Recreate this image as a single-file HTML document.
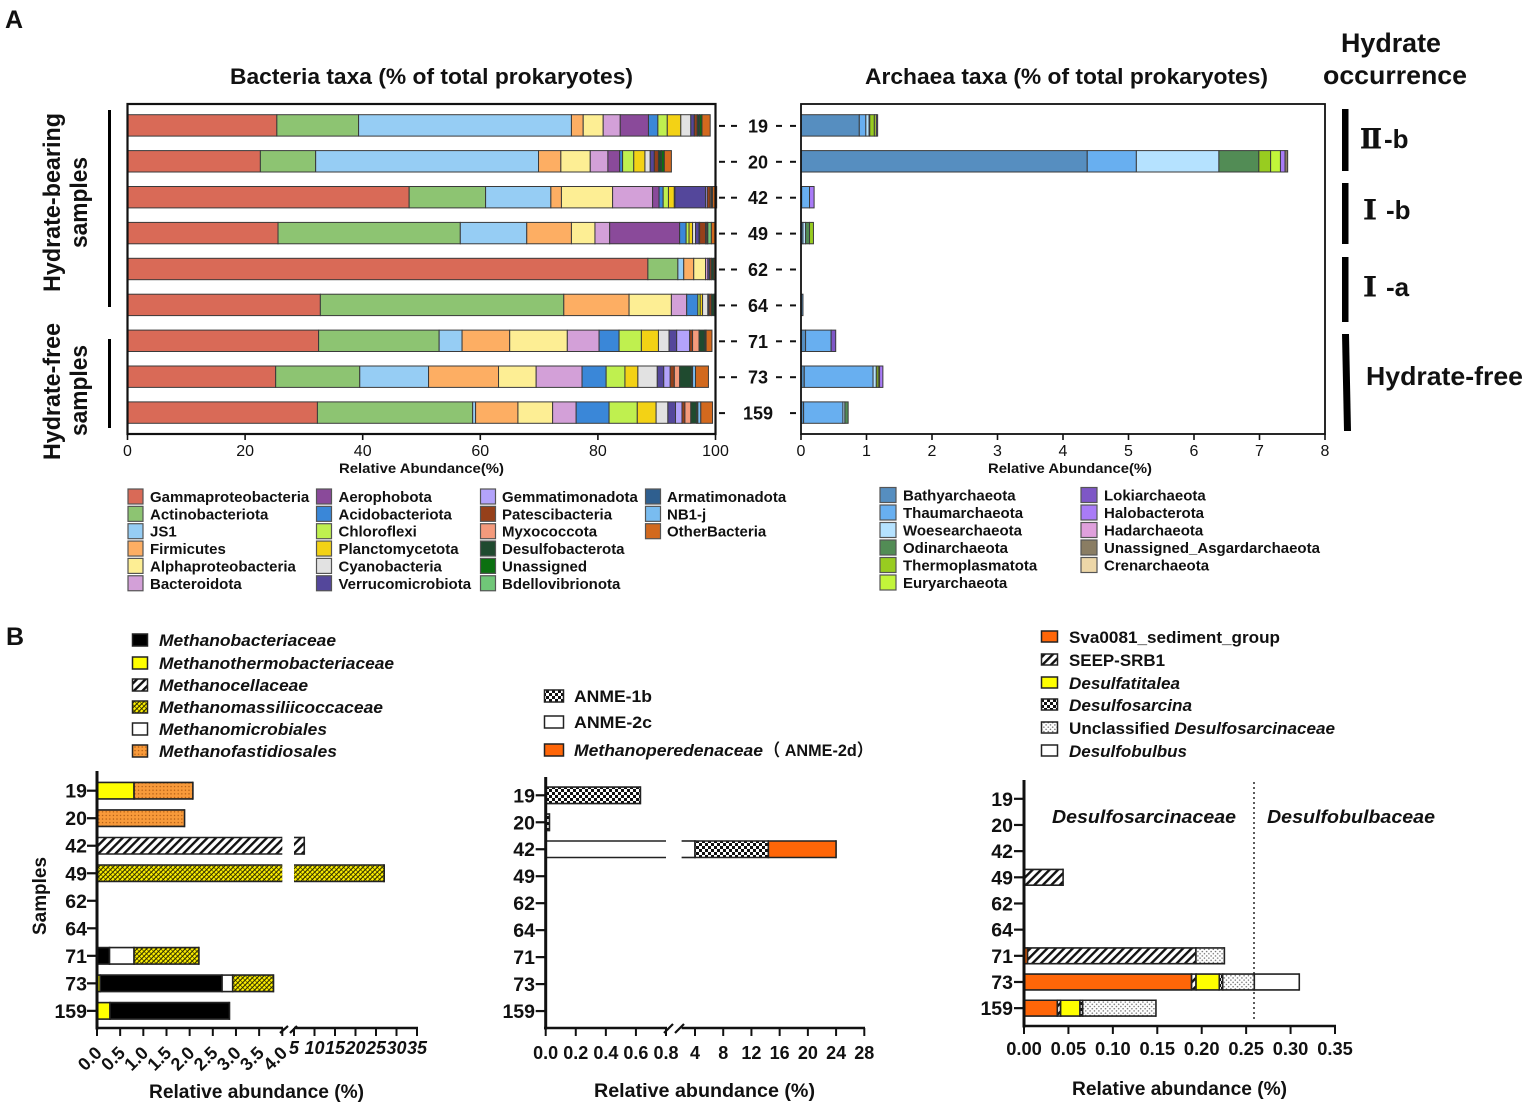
<!DOCTYPE html>
<html lang="en">
<head>
<meta charset="utf-8">
<title>Bacteria and archaea taxa in hydrate-bearing and hydrate-free samples</title>
<style>
html,body{margin:0;padding:0;background:#fff;}
svg{display:block;font-family:"Liberation Sans","Noto Sans CJK SC",sans-serif;fill:#111;}
text{font-weight:bold;fill:#111;}
.bi{font-style:italic;}
.tick-a{font-weight:normal;font-size:16px;text-anchor:middle;}
.roman{font-family:"Noto Serif CJK SC",serif;font-weight:900;stroke:#111;stroke-width:1;}
</style>
</head>
<body>
<svg id="figure" xmlns="http://www.w3.org/2000/svg" width="1535" height="1109" viewBox="0 0 1535 1109">
<defs>
<pattern id="p-hatch" patternUnits="userSpaceOnUse" width="6" height="6" patternTransform="rotate(45)"><rect width="6" height="6" fill="#fff"/><rect width="2.400" height="6" fill="#111"/></pattern>
<pattern id="p-massili" patternUnits="userSpaceOnUse" width="3.4" height="3.4" patternTransform="rotate(45)"><rect width="3.4" height="3.4" fill="#2a2a00"/><rect width="2.300" height="2.800" fill="#fff000"/></pattern>
<pattern id="p-orange" patternUnits="userSpaceOnUse" width="3.6" height="3.6"><rect width="3.6" height="3.6" fill="#f89a3a"/><circle cx="1.8" cy="1.8" r=".7" fill="#a8560f"/></pattern>
<pattern id="p-check" patternUnits="userSpaceOnUse" width="6" height="6"><rect width="6" height="6" fill="#fff"/><rect width="3" height="3" fill="#111"/><rect x="3" y="3" width="3" height="3" fill="#111"/></pattern>
<pattern id="p-dots" patternUnits="userSpaceOnUse" width="4.4" height="4.4"><rect width="4.4" height="4.4" fill="#fff"/><circle cx="1.1" cy="1.1" r=".75" fill="#666"/><circle cx="3.3" cy="3.3" r=".75" fill="#666"/></pattern>
</defs>

<text x="5" y="28" font-size="25">A</text>
<text x="6" y="645" font-size="25">B</text>

<text x="230" y="84" font-size="22" textLength="403" lengthAdjust="spacingAndGlyphs">Bacteria taxa (% of total prokaryotes)</text>
<text x="865" y="84" font-size="22" textLength="403" lengthAdjust="spacingAndGlyphs">Archaea taxa (% of total prokaryotes)</text>
<text x="1341" y="52" font-size="27" textLength="100" lengthAdjust="spacingAndGlyphs">Hydrate</text>
<text x="1323" y="84" font-size="26" textLength="144" lengthAdjust="spacingAndGlyphs">occurrence</text>

<g>
<rect x="1342" y="109" width="6.5" height="62" fill="#000"/>
<rect x="1342" y="183" width="6.5" height="61" fill="#000"/>
<rect x="1342" y="257" width="6.5" height="65" fill="#000"/>
<polygon points="1342,334 1349,334 1351,431 1344,431" fill="#000"/>
</g>
<text x="1358" y="148" font-size="26"><tspan class="roman">Ⅱ</tspan><tspan>-b</tspan></text>
<text x="1357" y="219" font-size="26"><tspan class="roman">Ⅰ</tspan><tspan dx="3">-b</tspan></text>
<text x="1357" y="296" font-size="26"><tspan class="roman">Ⅰ</tspan><tspan dx="3">-a</tspan></text>
<text x="1366" y="385" font-size="26" textLength="157" lengthAdjust="spacingAndGlyphs">Hydrate-free</text>

<g>
<text transform="translate(60 292) rotate(-90)" font-size="24" textLength="179" lengthAdjust="spacingAndGlyphs">Hydrate-bearing</text>
<text transform="translate(87 248) rotate(-90)" font-size="24" textLength="91" lengthAdjust="spacingAndGlyphs">samples</text>
<text transform="translate(60 460) rotate(-90)" font-size="24" textLength="137" lengthAdjust="spacingAndGlyphs">Hydrate-free</text>
<text transform="translate(87 436) rotate(-90)" font-size="24" textLength="91" lengthAdjust="spacingAndGlyphs">samples</text>
<rect x="108" y="110" width="3" height="197" fill="#000"/>
<rect x="108" y="339" width="3" height="89" fill="#000"/>
</g>

<text x="339" y="473" font-size="14" textLength="165" lengthAdjust="spacingAndGlyphs">Relative Abundance(%)</text>
<text x="988" y="473" font-size="14" textLength="164" lengthAdjust="spacingAndGlyphs">Relative Abundance(%)</text>

<g font-size="17">
<rect x="132.500" y="634" width="15" height="12" fill="#000" stroke="#222" stroke-width="1.5"/>
<text class="bi" x="159" y="646" textLength="177" lengthAdjust="spacingAndGlyphs">Methanobacteriaceae</text>
<rect x="132.500" y="657" width="15" height="12" fill="#ffff00" stroke="#222" stroke-width="1.5"/>
<text class="bi" x="159" y="669" textLength="235" lengthAdjust="spacingAndGlyphs">Methanothermobacteriaceae</text>
<rect x="132.500" y="679" width="15" height="12" fill="url(#p-hatch)" stroke="#222" stroke-width="1.5"/>
<text class="bi" x="159" y="691" textLength="149" lengthAdjust="spacingAndGlyphs">Methanocellaceae</text>
<rect x="132.500" y="701" width="15" height="12" fill="url(#p-massili)" stroke="#222" stroke-width="1.5"/>
<text class="bi" x="159" y="713" textLength="224" lengthAdjust="spacingAndGlyphs">Methanomassiliicoccaceae</text>
<rect x="132.500" y="723" width="15" height="12" fill="#fff" stroke="#222" stroke-width="1.5"/>
<text class="bi" x="159" y="735" textLength="168" lengthAdjust="spacingAndGlyphs">Methanomicrobiales</text>
<rect x="132.500" y="745" width="15" height="12" fill="url(#p-orange)" stroke="#222" stroke-width="1.5"/>
<text class="bi" x="159" y="757" textLength="178" lengthAdjust="spacingAndGlyphs">Methanofastidiosales</text>
</g>

<g font-size="17">
<rect x="544.500" y="690" width="19" height="12" fill="url(#p-check)" stroke="#222" stroke-width="1.5"/>
<text x="574" y="702" textLength="78" lengthAdjust="spacingAndGlyphs">ANME-1b</text>
<rect x="544.500" y="716" width="19" height="12" fill="#fff" stroke="#222" stroke-width="1.5"/>
<text x="574" y="728" textLength="78" lengthAdjust="spacingAndGlyphs">ANME-2c</text>
<rect x="544.500" y="744" width="19" height="12" fill="#ff6608" stroke="#222" stroke-width="1.5"/>
<text class="bi" x="574" y="756" textLength="189" lengthAdjust="spacingAndGlyphs">Methanoperedenaceae</text>
<text x="764" y="756" textLength="109" lengthAdjust="spacingAndGlyphs">（ ANME-2d）</text>
</g>

<g font-size="17">
<rect x="1041.500" y="631" width="16" height="11" fill="#ff6608" stroke="#222" stroke-width="1.500"/>
<text x="1069" y="643" textLength="211" lengthAdjust="spacingAndGlyphs">Sva0081_sediment_group</text>
<rect x="1041.500" y="654" width="16" height="11" fill="url(#p-hatch)" stroke="#222" stroke-width="1.500"/>
<text x="1069" y="666" textLength="96" lengthAdjust="spacingAndGlyphs">SEEP-SRB1</text>
<rect x="1041.500" y="677" width="16" height="11" fill="#ffff00" stroke="#222" stroke-width="1.500"/>
<text class="bi" x="1069" y="689" textLength="111" lengthAdjust="spacingAndGlyphs">Desulfatitalea</text>
<rect x="1041.500" y="699" width="16" height="11" fill="url(#p-check)" stroke="#222" stroke-width="1.500"/>
<text class="bi" x="1069" y="711" textLength="123" lengthAdjust="spacingAndGlyphs">Desulfosarcina</text>
<rect x="1041.500" y="722" width="16" height="11" fill="url(#p-dots)" stroke="#222" stroke-width="1.500"/>
<text x="1069" y="734" textLength="266" lengthAdjust="spacingAndGlyphs">Unclassified <tspan class="bi">Desulfosarcinaceae</tspan></text>
<rect x="1041.500" y="745" width="16" height="11" fill="#fff" stroke="#222" stroke-width="1.500"/>
<text class="bi" x="1069" y="757" textLength="118" lengthAdjust="spacingAndGlyphs">Desulfobulbus</text>
</g>

<line x1="1254" y1="782" x2="1254" y2="1021" stroke="#333" stroke-width="1.6" stroke-dasharray="2 3"/>
<text class="bi" x="1052" y="823" font-size="18" textLength="184" lengthAdjust="spacingAndGlyphs">Desulfosarcinaceae</text>
<text class="bi" x="1267" y="823" font-size="18" textLength="168" lengthAdjust="spacingAndGlyphs">Desulfobulbaceae</text>

<text transform="translate(46 935) rotate(-90)" font-size="19" textLength="78" lengthAdjust="spacingAndGlyphs">Samples</text>
<text x="149" y="1098" font-size="19" textLength="215" lengthAdjust="spacingAndGlyphs">Relative abundance (%)</text>
<text x="594" y="1097" font-size="19" textLength="221" lengthAdjust="spacingAndGlyphs">Relative abundance (%)</text>
<text x="1072" y="1095" font-size="19" textLength="215" lengthAdjust="spacingAndGlyphs">Relative abundance (%)</text>
</svg>

<script>
const samples = ['19', '20', '42', '49', '62', '64', '71', '73', '159'];

const bacteriaTaxa = ['Gammaproteobacteria', 'Actinobacteriota', 'JS1', 'Firmicutes', 'Alphaproteobacteria', 'Bacteroidota', 'Aerophobota', 'Acidobacteriota', 'Chloroflexi', 'Planctomycetota', 'Cyanobacteria', 'Verrucomicrobiota', 'Gemmatimonadota', 'Patescibacteria', 'Myxococcota', 'Desulfobacterota', 'Unassigned', 'Bdellovibrionota', 'Armatimonadota', 'NB1-j', 'OtherBacteria'];
const bacteriaColors = ['#d96a57', '#8dc472', '#96cdf4', '#fdae63', '#fdee94', '#d3a0d8', '#8a4a9a', '#3a87d8', '#bff04f', '#f3d215', '#e2e2e2', '#54479b', '#b3a3fb', '#96401a', '#f49a7c', '#1f4a2f', '#0b7010', '#70c678', '#2f5f8f', '#79bcf0', '#d2691e'];

const bacteria19 = [25.4, 13.9, 36.2, 2.0, 3.4, 2.9, 4.8, 1.6, 1.6, 2.3, 1.7, 0.6, 0, 0.5, 0, 0.4, 0.4, 0, 0, 0, 1.4];
const bacteria20 = [22.6, 9.4, 37.9, 3.8, 5.0, 3.0, 2.0, 0.5, 1.9, 1.9, 0.9, 0.7, 0, 0.7, 0, 0.5, 0.5, 0, 0, 0, 1.2];
const bacteria42 = [47.9, 13.0, 11.1, 1.8, 8.7, 6.8, 1.1, 0.7, 0.9, 1.0, 0.1, 5.2, 0.3, 0.5, 0.2, 0.2, 0, 0, 0, 0, 0.7];
const bacteria49 = [25.6, 31.0, 11.3, 7.6, 4.0, 2.5, 11.9, 1.1, 0.5, 0.6, 0.5, 0.6, 0.1, 1.0, 0.2, 0.1, 0.1, 0.6, 0, 0, 0.6];
const bacteria62 = [88.5, 5.1, 1.0, 1.7, 2.0, 0.4, 0, 0, 0, 0, 0, 0.3, 0, 0.3, 0, 0.4, 0, 0, 0, 0, 0.3];
const bacteria64 = [32.8, 41.4, 0, 11.1, 7.2, 2.6, 0, 1.9, 0.4, 0.4, 0.9, 0.2, 0, 0.4, 0, 0.5, 0, 0, 0, 0, 0.2];
const bacteria71 = [32.5, 20.5, 3.9, 8.1, 9.8, 5.4, 0, 3.4, 3.8, 2.9, 1.8, 1.3, 2.2, 0.5, 1.1, 1.0, 0.2, 0, 0, 0, 1.0];
const bacteria73 = [25.2, 14.3, 11.7, 11.9, 6.4, 7.8, 0, 4.1, 3.2, 2.2, 3.3, 1.1, 1.1, 0.7, 0.9, 2.0, 0.2, 0, 0, 0.5, 2.2];
const bacteria159 = [32.3, 26.4, 0.5, 7.2, 5.9, 4.0, 0, 5.6, 4.8, 3.2, 2.0, 1.3, 1.1, 0.5, 1.0, 1.0, 0.2, 0, 0, 0.5, 2.0];
const bacteriaRows = [bacteria19, bacteria20, bacteria42, bacteria49, bacteria62, bacteria64, bacteria71, bacteria73, bacteria159];
const bacteriaTicks = [0, 20, 40, 60, 80, 100];

const archaeaTaxa = ['Bathyarchaeota', 'Thaumarchaeota', 'Woesearchaeota', 'Odinarchaeota', 'Thermoplasmatota', 'Euryarchaeota', 'Lokiarchaeota', 'Halobacterota', 'Hadarchaeota', 'Unassigned_Asgardarchaeota', 'Crenarchaeota'];
const archaeaColors = ['#568ec0', '#68aff0', '#b5e2ff', '#528c55', '#98cc20', '#c2f53a', '#7e57c6', '#a97bf7', '#dfa0dc', '#8a7d63', '#edd7a8'];

const archaea19 = [0.89, 0.10, 0.05, 0.01, 0.07, 0.03, 0.02, 0, 0, 0, 0];
const archaea20 = [4.37, 0.75, 1.26, 0.61, 0.18, 0.15, 0, 0.07, 0, 0.04, 0];
const archaea42 = [0.01, 0.12, 0, 0, 0, 0, 0, 0.07, 0, 0, 0];
const archaea49 = [0.03, 0, 0.04, 0.06, 0.06, 0, 0, 0, 0, 0, 0];
const archaea62 = [0, 0, 0, 0, 0, 0, 0, 0, 0, 0, 0];
const archaea64 = [0.03, 0, 0, 0, 0, 0, 0, 0, 0, 0, 0];
const archaea71 = [0.07, 0.39, 0, 0, 0, 0, 0.07, 0, 0, 0, 0];
const archaea73 = [0.05, 1.05, 0.05, 0, 0.03, 0.02, 0, 0.05, 0, 0, 0];
const archaea159 = [0.04, 0.60, 0.03, 0.05, 0, 0, 0, 0, 0, 0, 0];
const archaeaRows = [archaea19, archaea20, archaea42, archaea49, archaea62, archaea64, archaea71, archaea73, archaea159];
const archaeaTicks = [0, 1, 2, 3, 4, 5, 6, 7, 8];

const methanothermobacteriaceae = [0.80, 0, 0, 0, 0, 0, 0, 0.07, 0.28];
const methanobacteriaceae = [0, 0, 0, 0, 0, 0, 0.27, 2.63, 2.58];
const methanocellaceae = [0, 0, 7.5, 0, 0, 0, 0, 0, 0];
const methanomicrobiales = [0, 0, 0, 0, 0, 0, 0.53, 0.23, 0];
const methanomassiliicoccaceae = [0, 0, 0, 27, 0, 0, 1.40, 0.88, 0];
const methanofastidiosales = [1.27, 1.89, 0, 0, 0, 0, 0, 0, 0];
const methanogenTicksLow = [0, 0.5, 1, 1.5, 2, 2.5, 3, 3.5, 4];
const methanogenTicksHigh = [5, 10, 15, 20, 25, 30, 35];

const anme2c = [0, 0, 4, 0, 0, 0, 0, 0, 0];
const anme1b = [0.63, 0.025, 10.4, 0, 0, 0, 0, 0, 0];
const anme2d = [0, 0, 9.6, 0, 0, 0, 0, 0, 0];
const anmeTicksLow = [0, 0.2, 0.4, 0.6, 0.8];
const anmeTicksHigh = [4, 8, 12, 16, 20, 24, 28];

const sva0081 = [0, 0, 0, 0, 0, 0, 0.004, 0.1886, 0.0375];
const seepSrb1 = [0, 0, 0, 0.044, 0, 0, 0.1895, 0.005, 0.0037];
const desulfatitalea = [0, 0, 0, 0, 0, 0, 0, 0.0262, 0.0218];
const desulfosarcina = [0, 0, 0, 0, 0, 0, 0, 0.0038, 0.003];
const unclassifiedDesulfosarcinaceae = [0, 0, 0, 0, 0, 0, 0.032, 0.0356, 0.0825];
const desulfobulbus = [0, 0, 0, 0, 0, 0, 0, 0.0506, 0];
const sulfateTicks = [0, 0.05, 0.1, 0.15, 0.2, 0.25, 0.3, 0.35];

const NS = 'http://www.w3.org/2000/svg';
const figure = document.getElementById('figure');

function make(parent, tag, attrs, content) {
  const node = document.createElementNS(NS, tag);
  for (const key in attrs) node.setAttribute(key, attrs[key]);
  if (content !== undefined) node.textContent = content;
  parent.appendChild(node);
  return node;
}
function slug(s) {
  return String(s).toLowerCase().replace(/[^a-z0-9]+/g, '-');
}
function group(parent, name) {
  const g = make(parent, 'g', {});
  
  
  return g;
}
function line(parent, name, x1, y1, x2, y2, width, color) {
  const l = make(parent, 'line', { x1: x1, y1: y1, x2: x2, y2: y2, stroke: color || '#111', 'stroke-width': width });
  
  
  return l;
}
function label(parent, name, x, y, str, attrs) {
  const t = make(parent, 'text', Object.assign({ x: x, y: y }, attrs), str);
  
  
  return t;
}

/* ---------- Panel A ---------- */
const rowTop = 125.4;
const rowStep = 35.9;
const rowHeight = 21.4;
function rowCenter(i) {
  return rowTop + rowStep * i;
}

function drawPanelA(name, rows, taxa, colors, x0, x1, maxValue, ticks, frameWidth) {
  const g = group(figure, name);
  const xScale = function (v) { return x0 + (v / maxValue) * (x1 - x0); };
  rows.forEach(function (row, i) {
    let cumulative = 0;
    row.forEach(function (value, s) {
      if (value <= 0) return;
      const seg = make(g, 'rect', {
        x: xScale(cumulative), y: rowCenter(i) - rowHeight / 2,
        width: xScale(cumulative + value) - xScale(cumulative), height: rowHeight,
        fill: colors[s], stroke: '#3a3a3a', 'stroke-width': 1
      });
      
      
      cumulative += value;
    });
  });
  const frame = make(g, 'rect', { x: x0, y: 104, width: x1 - x0, height: 330, fill: 'none', stroke: '#111', 'stroke-width': frameWidth });
  
  
  ticks.forEach(function (t) {
    line(g, 'x-tick', xScale(t), 434, xScale(t), 440, 1.6);
    const tl = label(g, 'x-tick-label', xScale(t), 456, String(t), {});
    tl.setAttribute('class', 'tick-a');
  });
}
drawPanelA('bacteria-chart', bacteriaRows, bacteriaTaxa, bacteriaColors, 127.5, 715.5, 100, bacteriaTicks, 2.2);
drawPanelA('archaea-chart', archaeaRows, archaeaTaxa, archaeaColors, 801, 1325, 8, archaeaTicks, 1.8);

const centerLabels = group(figure, 'shared-sample-labels');
samples.forEach(function (s, i) {
  const y = rowCenter(i) + 0.5;
  label(centerLabels, 'sample-label', 758, y + 6.5, s, { 'font-size': 18, 'text-anchor': 'middle' });
  line(centerLabels, 'sample-tick', 719, y, 725, y, 2);
  line(centerLabels, 'sample-tick', 790, y, 796, y, 2);
  if (s !== '159') {
    line(centerLabels, 'sample-dash', 731, y, 737, y, 2);
    line(centerLabels, 'sample-dash', 776, y, 782, y, 2);
  }
});

function drawColorLegend(name, taxa, colors, columns) {
  const g = group(figure, name);
  columns.forEach(function (col) {
    for (let k = 0; k < col.count; k++) {
      const idx = col.start + k;
      const cy = col.y + col.step * k;
      const sw = make(g, 'rect', { x: col.sx, y: cy - 7.5, width: col.sw, height: 15, fill: colors[idx], stroke: '#555', 'stroke-width': 1.2 });
      
      
      label(g, 'legend-label-' + slug(taxa[idx]), col.tx, cy + 5.5, taxa[idx], { 'font-size': 15 });
    }
  });
}
drawColorLegend('bacteria-legend', bacteriaTaxa, bacteriaColors, [
  { start: 0, count: 6, sx: 128, sw: 15, tx: 150, y: 496.5, step: 17.35 },
  { start: 6, count: 6, sx: 316.5, sw: 15, tx: 338.5, y: 496.5, step: 17.35 },
  { start: 12, count: 6, sx: 480.5, sw: 15, tx: 502, y: 496.5, step: 17.35 },
  { start: 18, count: 3, sx: 645.5, sw: 15, tx: 667, y: 496.5, step: 17.35 }
]);
drawColorLegend('archaea-legend', archaeaTaxa, archaeaColors, [
  { start: 0, count: 6, sx: 880, sw: 16, tx: 903, y: 495, step: 17.5 },
  { start: 6, count: 5, sx: 1081, sw: 16, tx: 1104, y: 495, step: 17.5 }
]);

/* ---------- Panel B ---------- */
function pieceScale(pieces) {
  return function (v) {
    for (const p of pieces) {
      if (v <= p.d1) {
        const c = Math.max(v, p.d0);
        return p.r0 + (c - p.d0) / (p.d1 - p.d0) * (p.r1 - p.r0);
      }
    }
    return pieces[pieces.length - 1].r1;
  };
}

function drawStacked(g, series, pieces, rowY, barH, strokeW) {
  const xScale = pieceScale(pieces);
  samples.forEach(function (sample, i) {
    let cumulative = 0;
    const top = rowY(i) - barH / 2;
    series.forEach(function (s) {
      const value = s.values[i];
      if (value <= 0) return;
      const start = cumulative;
      const end = cumulative + value;
      pieces.forEach(function (p) {
        const a = Math.max(start, p.d0);
        const b = Math.min(end, p.d1);
        if (b <= a) return;
        const xa = xScale(a);
        const xb = xScale(b);
        const seg = make(g, 'rect', { x: xa, y: top, width: xb - xa, height: barH, fill: s.fill });
        
        
        line(g, 'bar-edge', xa, top, xb, top, strokeW, '#222');
        line(g, 'bar-edge', xa, top + barH, xb, top + barH, strokeW, '#222');
        if (a === start && start > 0) line(g, 'bar-edge', xa, top, xa, top + barH, strokeW, '#222');
        if (b === end) line(g, 'bar-edge', xb, top - strokeW / 2, xb, top + barH + strokeW / 2, strokeW, '#222');
      });
      cumulative = end;
    });
  });
}

function drawSampleAxis(g, rowY, axisX, yTop, yBottom, labelRight) {
  line(g, 'y-axis-line', axisX, yTop, axisX, yBottom + 1.5, 3);
  samples.forEach(function (s, i) {
    line(g, 'y-tick', axisX - 10, rowY(i), axisX, rowY(i), 2.2);
    label(g, 'y-tick-label', labelRight, rowY(i) + 7, s, { 'font-size': 19.5, 'text-anchor': 'end' });
  });
}

/* Methanogen chart */
const methanogenChart = group(figure, 'methanogen-chart');
const methanogenPieces = [{ d0: 0, d1: 4, r0: 97, r1: 282.3 }, { d0: 5, d1: 35, r0: 294, r1: 417 }];
const methanogenX = pieceScale(methanogenPieces);
function methanogenY(i) { return 790.7 + 27.52 * i; }
drawStacked(methanogenChart, [
  { name: 'methanothermobacteriaceae', values: methanothermobacteriaceae, fill: '#ffff00' },
  { name: 'methanobacteriaceae', values: methanobacteriaceae, fill: '#000' },
  { name: 'methanocellaceae', values: methanocellaceae, fill: 'url(#p-hatch)' },
  { name: 'methanomicrobiales', values: methanomicrobiales, fill: '#fff' },
  { name: 'methanomassiliicoccaceae', values: methanomassiliicoccaceae, fill: 'url(#p-massili)' },
  { name: 'methanofastidiosales', values: methanofastidiosales, fill: 'url(#p-orange)' }
], methanogenPieces, methanogenY, 16.5, 1.6);
drawSampleAxis(methanogenChart, methanogenY, 97, 771, 1028, 87);
line(methanogenChart, 'x-axis-line-low', 95.5, 1028, 283, 1028, 2.6);
line(methanogenChart, 'x-axis-line-high', 294, 1028, 418, 1028, 2.6);
line(methanogenChart, 'axis-break-mark', 280, 1033, 288, 1026, 2.2);
line(methanogenChart, 'axis-break-mark', 290, 1033, 297, 1026, 2.2);
methanogenTicksLow.forEach(function (t) {
  const x = methanogenX(t);
  line(methanogenChart, 'x-tick', x, 1028, x, 1036, 2);
  const tl = label(methanogenChart, 'x-tick-label', x + 6, 1054, t.toFixed(1), { 'font-size': 18, 'text-anchor': 'end' });
  tl.setAttribute('transform', 'rotate(-45 ' + (x + 6) + ' 1054)');
});
methanogenTicksHigh.forEach(function (t) {
  const x = methanogenX(t);
  line(methanogenChart, 'x-tick', x, 1028, x, 1036, 2);
  label(methanogenChart, 'x-tick-label', x, 1054, String(t), { 'font-size': 18, 'text-anchor': 'middle', class: 'bi' });
});

/* ANME chart */
const anmeChart = group(figure, 'anme-chart');
const anmePieces = [{ d0: 0, d1: 0.8, r0: 545.7, r1: 666 }, { d0: 2.1, d1: 28, r0: 681.6, r1: 864.3 }];
const anmeX = pieceScale(anmePieces);
function anmeY(i) { return 795.3 + 26.97 * i; }
drawStacked(anmeChart, [
  { name: 'anme-2c', values: anme2c, fill: '#fff' },
  { name: 'anme-1b', values: anme1b, fill: 'url(#p-check)' },
  { name: 'anme-2d', values: anme2d, fill: '#ff6608' }
], anmePieces, anmeY, 16.5, 1.6);
drawSampleAxis(anmeChart, anmeY, 545.7, 777, 1028, 535);
line(anmeChart, 'x-axis-line-low', 544, 1028, 667, 1028, 2.6);
line(anmeChart, 'x-axis-line-high', 681.6, 1028, 865, 1028, 2.6);
line(anmeChart, 'axis-break-mark', 664, 1033, 673, 1024, 2.2);
line(anmeChart, 'axis-break-mark', 675, 1033, 684, 1024, 2.2);
anmeTicksLow.forEach(function (t) {
  const x = anmeX(t);
  line(anmeChart, 'x-tick', x, 1028, x, 1036, 2);
  label(anmeChart, 'x-tick-label', x, 1059, t.toFixed(1), { 'font-size': 18, 'text-anchor': 'middle' });
});
anmeTicksHigh.forEach(function (t) {
  const x = anmeX(t);
  line(anmeChart, 'x-tick', x, 1028, x, 1036, 2);
  label(anmeChart, 'x-tick-label', x, 1059, String(t), { 'font-size': 18, 'text-anchor': 'middle' });
});

/* Sulfate reducer chart */
const sulfateChart = group(figure, 'sulfate-reducer-chart');
const sulfatePieces = [{ d0: 0, d1: 0.35, r0: 1024, r1: 1335 }];
const sulfateX = pieceScale(sulfatePieces);
function sulfateY(i) { return 798.8 + 26.17 * i; }
drawStacked(sulfateChart, [
  { name: 'sva0081', values: sva0081, fill: '#ff6608' },
  { name: 'seep-srb1', values: seepSrb1, fill: 'url(#p-hatch)' },
  { name: 'desulfatitalea', values: desulfatitalea, fill: '#ffff00' },
  { name: 'desulfosarcina', values: desulfosarcina, fill: 'url(#p-check)' },
  { name: 'unclassified-desulfosarcinaceae', values: unclassifiedDesulfosarcinaceae, fill: 'url(#p-dots)' },
  { name: 'desulfobulbus', values: desulfobulbus, fill: '#fff' }
], sulfatePieces, sulfateY, 15.8, 1.6);
drawSampleAxis(sulfateChart, sulfateY, 1024, 780, 1026, 1013);
line(sulfateChart, 'x-axis-line', 1022.5, 1026, 1336, 1026, 2.6);
sulfateTicks.forEach(function (t) {
  const x = sulfateX(t);
  line(sulfateChart, 'x-tick', x, 1026, x, 1034, 2);
  label(sulfateChart, 'x-tick-label', x, 1055, t.toFixed(2), { 'font-size': 18.3, 'text-anchor': 'middle' });
});
</script>
</body>
</html>
